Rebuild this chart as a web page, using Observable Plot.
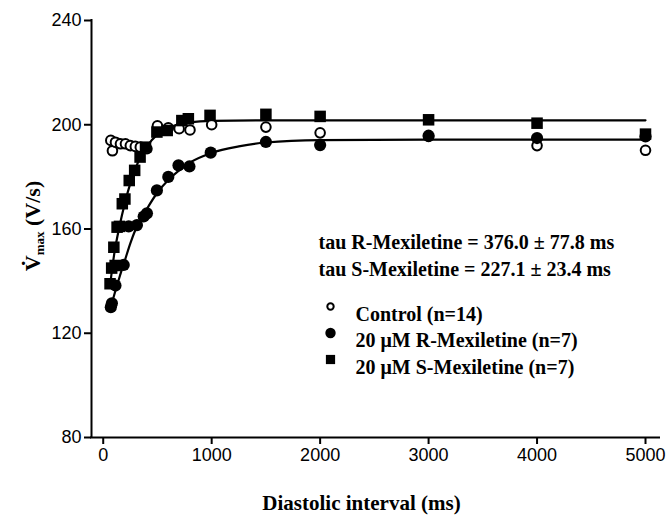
<!DOCTYPE html>
<html><head><meta charset="utf-8">
<script src="https://cdn.jsdelivr.net/npm/d3@7"></script>
<script src="https://cdn.jsdelivr.net/npm/@observablehq/plot@0.6"></script>
<style>body{margin:0;background:#fff}</style>
</head><body><div id="chart"></div>
<script>
// Control (open circles)
const controlX = [70, 85, 113, 159, 205, 250, 296, 342, 403, 500, 600, 700, 800, 1000, 1500, 2000, 3000, 4000, 5000];
const controlY = [194, 190, 193.3, 192.7, 192.7, 192, 191.7, 191.4, 190.8, 199.6, 198.8, 198.5, 198, 200, 199.1, 196.9, 195.5, 192, 190.2];
// 20 uM R-Mexiletine (filled circles)
const rX = [70, 80, 113, 189, 235, 311, 373, 403, 495, 600, 694, 795, 991, 1500, 2000, 3000, 4000, 5000];
const rY = [130, 131.5, 138.3, 146.2, 161, 161.5, 164.8, 166, 174.8, 180, 184.4, 184, 189.3, 193.4, 192.2, 195.8, 194.9, 195.5];
// 20 uM S-Mexiletine (filled squares)
const sX = [63, 78, 98, 110, 128, 150, 176, 200, 240, 290, 340, 390, 495, 590, 725, 785, 985, 1500, 2000, 3000, 4000, 5000];
const sY = [139, 145, 153, 146, 160.7, 161, 169.7, 171.5, 178.6, 182.5, 187.6, 191.4, 197.2, 197.8, 201.6, 202.3, 203.6, 204, 203.2, 201.9, 200.6, 196.4];
// fitted curves
const rFitX = [68, 100, 150, 200, 250, 300, 400, 500, 600, 700, 800, 1000, 1250, 1500, 2000, 3000, 5000];
const rFitY = [130, 134.5, 141.5, 148, 154.5, 160, 167.5, 174, 178.8, 182.5, 185.5, 189.2, 191.7, 193.2, 194.1, 194.3, 194.3];
const sFitX = [62, 100, 150, 200, 250, 300, 350, 400, 500, 600, 800, 1000, 1500, 5000];
const sFitY = [138, 150, 161, 170, 177.5, 183.5, 188, 191.5, 196.3, 198.8, 200.9, 201.5, 201.7, 201.7];

const xTicks = [0, 1000, 2000, 3000, 4000, 5000];
const yTicks = [80, 120, 160, 200, 240];
const xDomain = [-108, 5129];
const yDomain = [80, 240];
const legendLabels = ["Control (n=14)", "20 μM R-Mexiletine (n=7)", "20 μM S-Mexiletine (n=7)"];
const annotations = ["tau R-Mexiletine = 376.0 ± 77.8 ms", "tau S-Mexiletine = 227.1 ± 23.4 ms"];
const xLabel = "Diastolic interval (ms)";

const rows = (xs, ys) => xs.map((x, i) => ({x, y: ys[i]}));
const serif = "Liberation Serif, Times New Roman, serif";

const legendMarks = [];
const legendStyles = [
  {symbol: "circle", r: 3.2, fill: "white", stroke: "black", strokeWidth: 2},
  {symbol: "circle", r: 5.2, fill: "black"},
  {symbol: "square", r: 5.2, fill: "black"}
];
legendLabels.forEach((lab, i) => {
  legendMarks.push(Plot.dot([lab], {frameAnchor: "top-left", dx: 239, dy: 286 + i * 26.5, ...legendStyles[i]}));
  legendMarks.push(Plot.text([lab], {frameAnchor: "top-left", dx: 264, dy: 286 + i * 26.5, text: d => d, textAnchor: "start", fontSize: 20, fontWeight: "bold", fontFamily: serif, fill: "black"}));
});
const annotMarks = annotations.map((t, i) => Plot.text([t], {frameAnchor: "top-left", dx: 227, dy: 214 + i * 27, text: d => d, textAnchor: "start", fontSize: 20, fontWeight: "bold", fontFamily: serif, fill: "black"}));

const plot = Plot.plot({
  width: 667, height: 518,
  marginLeft: 91, marginRight: 8, marginTop: 20, marginBottom: 81,
  style: {background: "white", color: "black", fontFamily: "Liberation Sans, Arial, sans-serif", fontSize: "18px"},
  x: {domain: xDomain},
  y: {domain: yDomain},
  marks: [
    Plot.ruleX([xDomain[0]], {stroke: "black", strokeWidth: 2, strokeLinecap: "square"}),
    Plot.ruleY([yDomain[0]], {stroke: "black", strokeWidth: 2, strokeLinecap: "square"}),
    Plot.axisX({ticks: xTicks, tickSize: 7, tickPadding: 4, strokeWidth: 2, label: null, tickFormat: d => String(d)}),
    Plot.axisY({ticks: yTicks, tickSize: 7, tickPadding: 3, strokeWidth: 2, label: null}),
    Plot.line(rows(rFitX, rFitY), {x: "x", y: "y", curve: "monotone-x", stroke: "black", strokeWidth: 2.2}),
    Plot.line(rows(sFitX, sFitY), {x: "x", y: "y", curve: "monotone-x", stroke: "black", strokeWidth: 2.2}),
    Plot.dot(rows(controlX, controlY), {x: "x", y: "y", r: 4.8, fill: "white", stroke: "black", strokeWidth: 2}),
    Plot.dot(rows(rX, rY), {x: "x", y: "y", r: 6.1, fill: "black"}),
    Plot.dot(rows(sX, sY), {x: "x", y: "y", symbol: "square", r: 6.5, fill: "black"}),
    ...annotMarks,
    ...legendMarks,
    Plot.text([xLabel], {frameAnchor: "bottom", dx: -14, dy: 72, text: d => d, fontSize: 21, fontWeight: "bold", fontFamily: serif, fill: "black"})
  ]
});
document.getElementById("chart").appendChild(plot);

// y-axis title with dotted V and subscript
const svg = d3.select(plot);
const yt = svg.append("text")
  .attr("transform", "translate(40,226) rotate(-90)")
  .attr("text-anchor", "middle")
  .attr("font-family", serif)
  .attr("font-weight", "bold")
  .attr("fill", "black");
yt.append("tspan").attr("font-size", 22).text("V\u0307");
yt.append("tspan").attr("font-size", 13).attr("dy", 4).text("max");
yt.append("tspan").attr("font-size", 22).attr("dy", -4).text(" (V/s)");
</script>
</body></html>
